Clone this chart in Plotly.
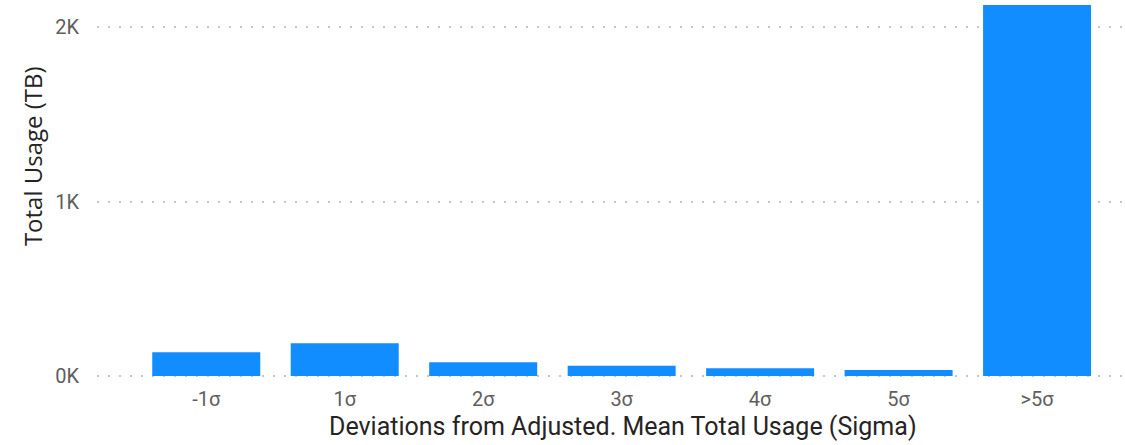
import plotly.graph_objects as go

categories = ["-1σ", "1σ", "2σ", "3σ", "4σ", "5σ", ">5σ"]
usage_tb = [136, 187, 78, 59, 44, 34, 2126]
y_tick_vals = [0, 1000, 2000]
y_tick_text = ["0K", "1K", "2K"]
x_title = "Deviations from Adjusted. Mean Total Usage (Sigma)"
y_title = "Total Usage (TB)"

fig = go.Figure(
    go.Bar(
        x=categories,
        y=usage_tb,
        marker=dict(color="#118DFF", line=dict(width=0)),
    )
)

fig.update_layout(
    width=1125,
    height=445,
    margin=dict(l=97, r=0, t=0, b=68),
    paper_bgcolor="white",
    plot_bgcolor="white",
    bargap=0.22,
    showlegend=False,
    font=dict(family="Roboto, Open Sans, sans-serif"),
)

fig.update_xaxes(
    range=[-0.789, 6.635],
    showgrid=False,
    showline=False,
    zeroline=False,
    ticks="",
    tickfont=dict(size=20, color="#605E5C"),
    ticklabelstandoff=8,
    automargin=False,
)

fig.update_yaxes(
    range=[-6, 2155],
    tickvals=y_tick_vals,
    ticktext=y_tick_text,
    showgrid=True,
    gridcolor="#C8C6C4",
    griddash="2px,9px",
    gridwidth=1.5,
    zeroline=False,
    showline=False,
    ticks="",
    tickfont=dict(size=20, color="#605E5C"),
    ticklabelstandoff=17,
    automargin=False,
)

fig.add_annotation(
    text=x_title,
    xref="paper", yref="paper",
    x=0.5117, y=-0.1326,
    xanchor="center", yanchor="middle",
    showarrow=False,
    font=dict(size=25, color="#252423"),
)

fig.add_annotation(
    text=y_title,
    xref="paper", yref="paper",
    x=-0.0632, y=0.586,
    xanchor="center", yanchor="middle",
    textangle=-90,
    showarrow=False,
    font=dict(size=24, family="Open Sans, Roboto, sans-serif", color="#252423"),
)

fig.write_html(
    "out.html",
    config={"displayModeBar": False},
    post_script="document.body.style.margin='0';",
)
